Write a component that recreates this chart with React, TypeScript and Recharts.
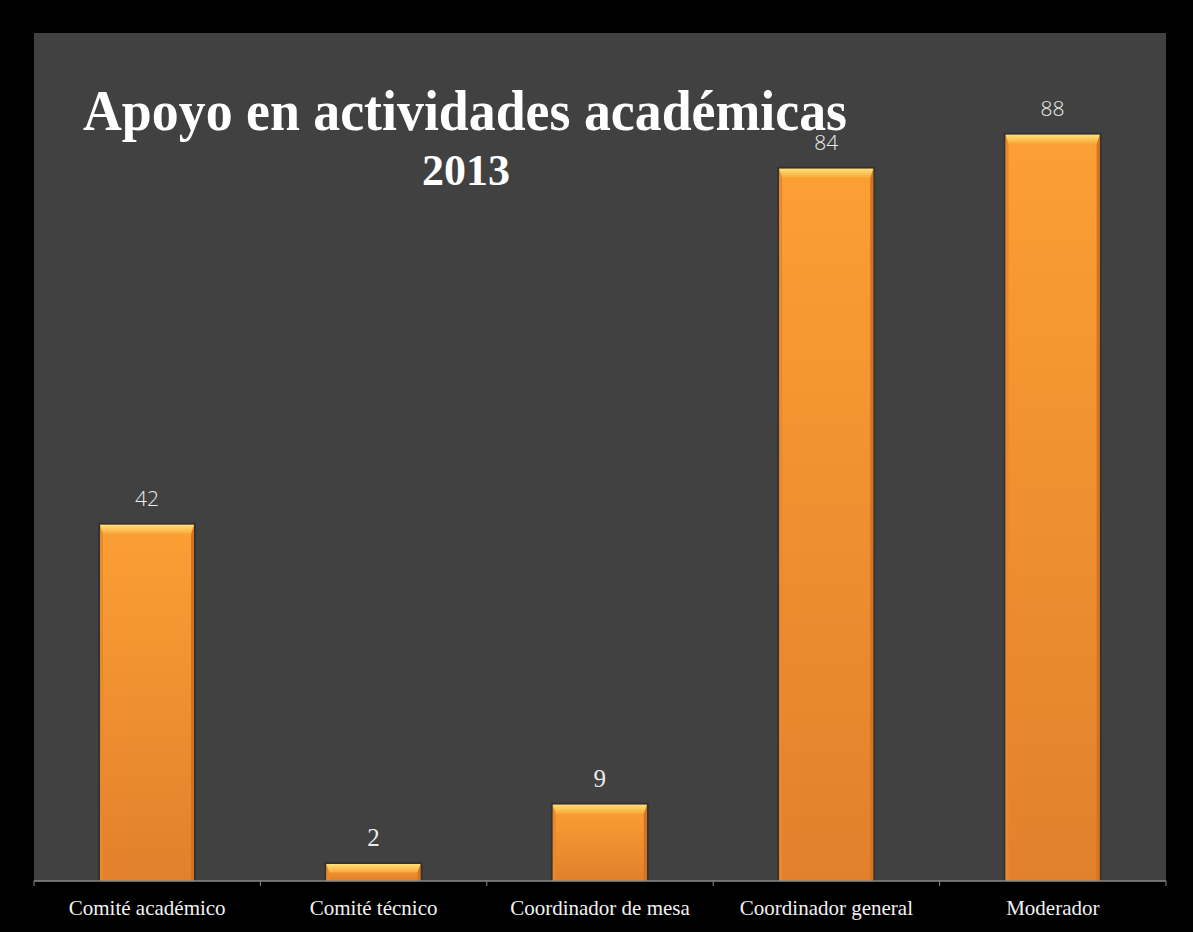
import { Bar, BarChart, CartesianGrid, LabelList, XAxis, YAxis } from 'recharts'

const categories = ['Comité académico', 'Comité técnico', 'Coordinador de mesa', 'Coordinador general', 'Moderador']
const values = [42, 2, 9, 84, 88]
const titleLines = ['Apoyo en actividades académicas', '2013']

const chartWidth = 1193
const chartHeight = 932
const margin = { top: 33, right: 27, left: 34, bottom: 0 }
const bandWidth = (chartWidth - margin.left - margin.right) / categories.length

const data = categories.map((name, i) => ({ name, value: values[i] }))

function BevelBar(props: any) {
  const { x, y, width, height } = props
  if (!height || height <= 0) return null
  const b = Math.min(9, height / 2)
  const s = Math.min(3, width / 4)
  return <g>
    <rect x={x - 2} y={y - 2} width={width + 4} height={height + 2} fill="#000" opacity={0.22} />
    <rect x={x} y={y} width={width} height={height} fill="url(#barBody)" />
    <polygon points={`${x},${y} ${x + s},${y + b} ${x + s},${y + height} ${x},${y + height}`} fill="#e88a2c" />
    <polygon points={`${x + width},${y} ${x + width - s},${y + b} ${x + width - s},${y + height} ${x + width},${y + height}`} fill="#d5741f" />
    <polygon points={`${x},${y} ${x + width},${y} ${x + width - s},${y + b} ${x + s},${y + b}`} fill="url(#bevelTop)" />
  </g>
}

function ValueLabel(props: any) {
  const { x, y, width, value } = props
  const small = Number(value) < 10
  return <text
    x={x + width / 2}
    y={y - (small ? 18 : 19)}
    textAnchor="middle"
    fill="#ececec"
    fontFamily={small ? '"Liberation Serif", serif' : '"Open Sans", "DejaVu Sans", sans-serif'}
    fontSize={small ? 25 : 21}
    fontWeight={small ? 400 : 300}
  >{value}</text>
}

function CategoryTick(props: any) {
  const { x, y, payload, index } = props
  const left = x - bandWidth / 2
  return <g>
    <line x1={left} y1={y} x2={left} y2={y + 5} stroke="#8a8a8a" strokeWidth={1} />
    {index === categories.length - 1 ? <line x1={left + bandWidth} y1={y} x2={left + bandWidth} y2={y + 5} stroke="#8a8a8a" strokeWidth={1} /> : null}
    <text x={x} y={y + 34} textAnchor="middle" fill="#f2f2f2" fontFamily='"Liberation Serif", serif' fontSize={21}>{payload.value}</text>
  </g>
}

export default function App() {
  return <div style={{ position: 'absolute', left: 0, top: 0, width: chartWidth, height: chartHeight, background: '#000' }}>
    <BarChart width={chartWidth} height={chartHeight} data={data} margin={margin}>
      <defs>
        <linearGradient id="barBody" x1="0" y1="0" x2="0" y2="1">
          <stop offset="0%" stopColor="#fc9f34" />
          <stop offset="100%" stopColor="#e2802c" />
        </linearGradient>
        <linearGradient id="bevelTop" x1="0" y1="0" x2="0" y2="1">
          <stop offset="0%" stopColor="#ffe07a" />
          <stop offset="100%" stopColor="#fba836" />
        </linearGradient>
      </defs>
      <CartesianGrid fill="#414141" horizontal={false} vertical={false} />
      <XAxis dataKey="name" height={51} axisLine={{ stroke: '#8a8a8a', strokeWidth: 1.5 }} tickLine={false} tickSize={0} tickMargin={0} interval={0} tick={<CategoryTick />} />
      <YAxis hide domain={[0, 100]} />
      <Bar dataKey="value" barSize={94} shape={<BevelBar />} isAnimationActive={false}>
        <LabelList dataKey="value" content={<ValueLabel />} />
      </Bar>
    </BarChart>
    <svg width={chartWidth} height={chartHeight} style={{ position: 'absolute', left: 0, top: 0, pointerEvents: 'none' }}>
      <text x={83} y={130} textLength={764} lengthAdjust="spacingAndGlyphs" fill="#fff" fontFamily='"Liberation Serif", serif' fontWeight="bold" fontSize={56}>{titleLines[0]}</text>
      <text x={466} y={185} textAnchor="middle" fill="#fff" fontFamily='"Liberation Serif", serif' fontWeight="bold" fontSize={44}>{titleLines[1]}</text>
    </svg>
  </div>
}
